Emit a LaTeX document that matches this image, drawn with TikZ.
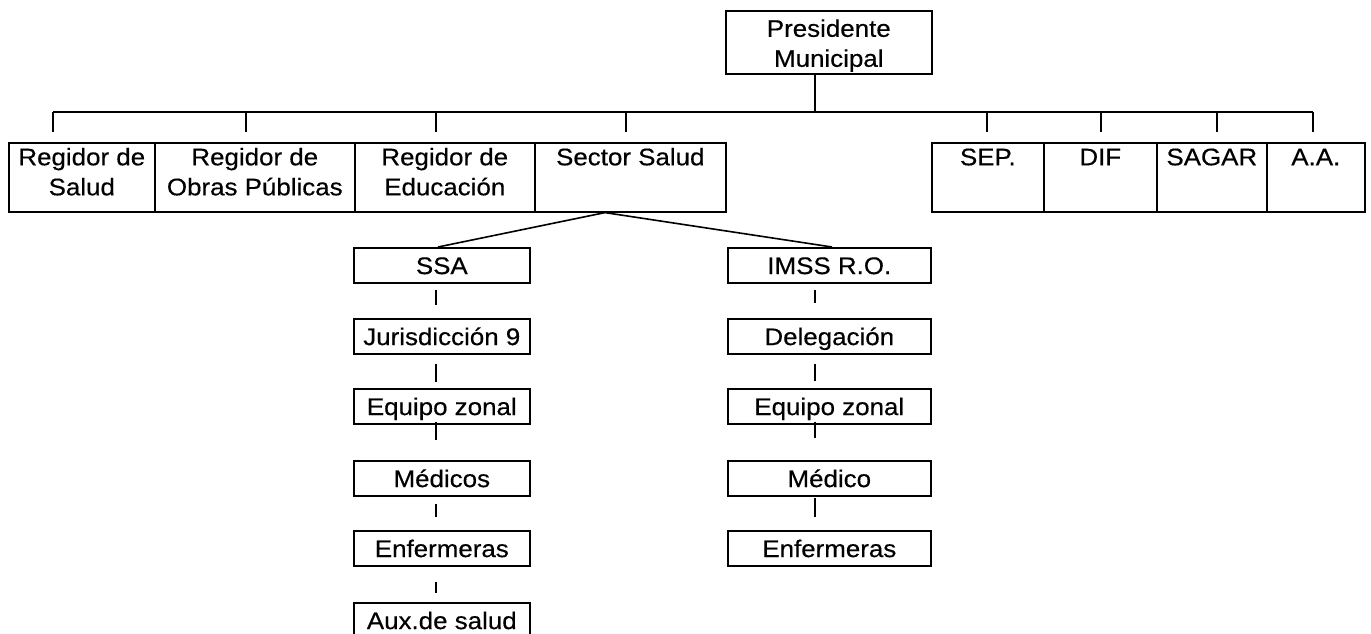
\documentclass[tikz,border=0pt]{standalone}
\usepackage{fontspec}
\setmainfont[FakeStretch=1.08,FakeBold=0.4]{Liberation Sans}
\newcommand\toptxt[4]{\parbox[c][#1][t]{#2}{\centering\vspace*{#3}\rule{0pt}{17.5pt}#4\par}}
\begin{document}
\begin{tikzpicture}[x=1pt,y=-1pt, line width=1.6pt,
  bx/.style={draw, rectangle, inner sep=0pt, font=\fontsize{24}{30}\selectfont},
  lb/.style={draw, rectangle, inner sep=0pt, anchor=north west,
             minimum height=35pt, text height=17.5pt, text depth=0pt,
             font=\fontsize{24}{30}\selectfont},
  lcol/.style={lb, minimum width=176pt},
  rcol/.style={lb, minimum width=203pt},
  tick/.style={shorten >=10pt}]
\useasboundingbox (0,0) rectangle (1371,633);
\fill[white] (0,0) rectangle (1371,633);
\clip (0,0) rectangle (1371,633);

% top
\node[bx, anchor=north west] (pres) at (725,10) {\toptxt{63pt}{206pt}{8.5pt}{Presidente\\Municipal}};

% first row
\node[bx, anchor=north west] (rsal) at (8,142)    {\toptxt{69pt}{146pt}{5pt}{Regidor de\\Salud}};
\node[bx, anchor=north west] (robr) at (154,142)  {\toptxt{69pt}{200pt}{5pt}{Regidor de\\Obras Públicas}};
\node[bx, anchor=north west] (redu) at (354,142)  {\toptxt{69pt}{180pt}{5pt}{Regidor de\\Educación}};
\node[bx, anchor=north west] (ssal) at (534,142)  {\toptxt{69pt}{191pt}{5pt}{Sector Salud}};
\node[bx, anchor=north west] (sep)  at (931,142)  {\toptxt{69pt}{112pt}{5pt}{SEP.}};
\node[bx, anchor=north west] (dif)  at (1043,142) {\toptxt{69pt}{113pt}{5pt}{DIF}};
\node[bx, anchor=north west] (sag)  at (1156,142) {\toptxt{69pt}{110pt}{5pt}{SAGAR}};
\node[bx, anchor=north west] (aa)   at (1266,142) {\toptxt{69pt}{98pt}{5pt}{A.A.}};

% left column
\node[lcol] (ssa) at (353,247) {SSA};
\node[lcol] (jur) at (353,318) {Jurisdicción 9};
\node[lcol] (eql) at (353,388) {Equipo zonal};
\node[lcol] (mel) at (353,460) {Médicos};
\node[lcol] (enl) at (353,530) {Enfermeras};
\node[lb, minimum width=176pt, minimum height=50pt, text height=17.5pt, text depth=15pt] (aux) at (353,602) {Aux.de salud};

% right column
\node[rcol] (imss) at (727,247) {IMSS R.O.};
\node[rcol] (del)  at (727,318) {Delegación};
\node[rcol] (eqr)  at (727,388) {Equipo zonal};
\node[rcol] (mer)  at (727,460) {Médico};
\node[rcol] (enr)  at (727,530) {Enfermeras};

% helper coordinates
\coordinate (px) at (815,0);
\coordinate (lx) at (436,0);
\coordinate (rx) at (815,0);
\coordinate (ax) at (605,0);
\coordinate (sx) at (438,0);
\coordinate (ix) at (832,0);
\coordinate (t1) at (53,112);
\coordinate (t2) at (246,112);
\coordinate (t3) at (436,112);
\coordinate (t4) at (626,112);
\coordinate (t5) at (987,112);
\coordinate (t6) at (1101,112);
\coordinate (t7) at (1217,112);
\coordinate (t8) at (1313,112);

% bus
\draw (pres.south -| px) -- (px |- t1);
\draw (t1) -- (t8);
\draw[tick] (t1) -- (t1 |- rsal.north);
\draw[tick] (t2) -- (t2 |- robr.north);
\draw[tick] (t3) -- (t3 |- redu.north);
\draw[tick] (t4) -- (t4 |- ssal.north);
\draw[tick] (t5) -- (t5 |- sep.north);
\draw[tick] (t6) -- (t6 |- dif.north);
\draw[tick] (t7) -- (t7 |- sag.north);
\draw[tick] (t8) -- (t8 |- aa.north);

% sector salud split
\draw (ssa.north -| sx) -- (ssal.south -| ax) -- (imss.north -| ix);

% left column connectors
\draw[shorten <=6pt, shorten >=13pt] (ssa.south -| lx) -- (jur.north -| lx);
\draw[shorten <=9pt, shorten >=6pt]  (jur.south -| lx) -- (eql.north -| lx);
\draw[shorten <=-3pt, shorten >=20pt] (eql.south -| lx) -- (mel.north -| lx);
\draw[shorten <=7pt, shorten >=13pt] (mel.south -| lx) -- (enl.north -| lx);
\draw[shorten <=15pt, shorten >=9pt] (enl.south -| lx) -- (aux.north -| lx);

% right column connectors
\draw[shorten <=6pt, shorten >=15pt] (imss.south -| rx) -- (del.north -| rx);
\draw[shorten <=9pt, shorten >=7pt]  (del.south -| rx) -- (eqr.north -| rx);
\draw[shorten <=-3pt, shorten >=22pt] (eqr.south -| rx) -- (mer.north -| rx);
\draw[shorten <=1pt, shorten >=13pt] (mer.south -| rx) -- (enr.north -| rx);
\end{tikzpicture}
\end{document}
